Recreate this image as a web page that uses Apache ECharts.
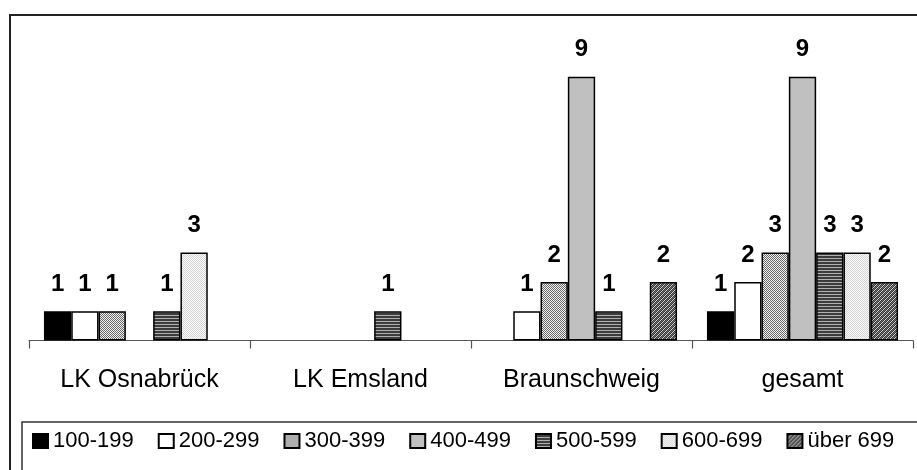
<!DOCTYPE html>
<html>
<head>
<meta charset="utf-8">
<script src="https://cdn.jsdelivr.net/npm/echarts@6/dist/echarts.min.js"></script>
<style>
html,body{margin:0;padding:0;background:#fff;}
#c{width:917px;height:470px;}
</style>
</head>
<body>
<div id="c"></div>
<script>
const categories = ['LK Osnabrück', 'LK Emsland', 'Braunschweig', 'gesamt'];
const seriesNames = ['100-199', '200-299', '300-399', '400-499', '500-599', '600-699', 'über 699'];
const s100_199 = [1, 0, 0, 1];
const s200_299 = [1, 0, 1, 2];
const s300_399 = [1, 0, 2, 3];
const s400_499 = [0, 0, 9, 9];
const s500_599 = [1, 1, 1, 3];
const s600_699 = [3, 0, 0, 3];
const sUeber699 = [0, 0, 2, 2];
const seriesValues = [s100_199, s200_299, s300_399, s400_499, s500_599, s600_699, sUeber699];

function pat(w, h, fn) {
  const c = document.createElement('canvas');
  c.width = w; c.height = h;
  const ctx = c.getContext('2d');
  for (let y = 0; y < h; y++) for (let x = 0; x < w; x++) {
    ctx.fillStyle = fn(x, y);
    ctx.fillRect(x, y, 1, 1);
  }
  return { image: c, repeat: 'repeat' };
}
const fills = [
  '#000000',
  '#ffffff',
  pat(2, 2, (x, y) => ((x + y) % 2 === 0 ? '#6a6a6a' : '#f0f0f0')),
  '#c0c0c0',
  pat(1, 3, (x, y) => (y === 0 ? '#b0b0b0' : '#3c3c3c')),
  pat(2, 2, (x, y) => ((x + y) % 2 === 0 ? '#d4d4d4' : '#fafafa')),
  pat(4, 4, (x, y) => ((x + y) % 4 === 0 ? '#d0d0d0' : ((x + y) % 4 === 2 ? '#707070' : '#3a3a3a')))
];

const chart = echarts.init(document.getElementById('c'), null, { renderer: 'canvas' });
const series = seriesNames.map((name, i) => ({
  name: name,
  type: 'bar',
  barWidth: 27.3,
  barGap: '0%',
  data: seriesValues[i].map(v => (v === 0 ? '-' : v)),
  itemStyle: { color: fills[i], borderColor: '#000', borderWidth: 1.5 },
  label: {
    show: true, position: 'top', distance: 15,
    fontFamily: 'Arial, Liberation Sans', fontWeight: 'bold', fontSize: 24, color: '#000'
  },
  emphasis: { disabled: true },
  animation: false
}));

chart.setOption({
  animation: false,
  grid: { left: 29, right: 4, top: 47.4, bottom: 129.5, containLabel: false },
  xAxis: {
    type: 'category',
    data: categories,
    axisLine: { lineStyle: { color: '#555', width: 1.2 } },
    axisTick: { show: true, length: 8, lineStyle: { color: '#555', width: 1.2 } },
    axisLabel: { margin: 27, fontFamily: 'Arial, Liberation Sans', fontSize: 25, color: '#000' }
  },
  yAxis: { type: 'value', min: 0, max: 10, show: false, splitLine: { show: false } },
  legend: {
    left: 32, top: 430, padding: 0,
    itemWidth: 15, itemHeight: 14, itemGap: 24,
    icon: 'rect',
    selectedMode: false,
    textStyle: { fontFamily: 'Arial, Liberation Sans', fontSize: 22, color: '#000' },
    data: seriesNames
  },
  graphic: [
    { type: 'rect', shape: { x: 10, y: 15, width: 930, height: 480 }, style: { fill: 'none', stroke: '#222', lineWidth: 2 }, silent: true },
    { type: 'rect', shape: { x: 22, y: 422, width: 920, height: 80 }, style: { fill: 'none', stroke: '#333', lineWidth: 1.5 }, silent: true }
  ],
  series: series
});
</script>
</body>
</html>
